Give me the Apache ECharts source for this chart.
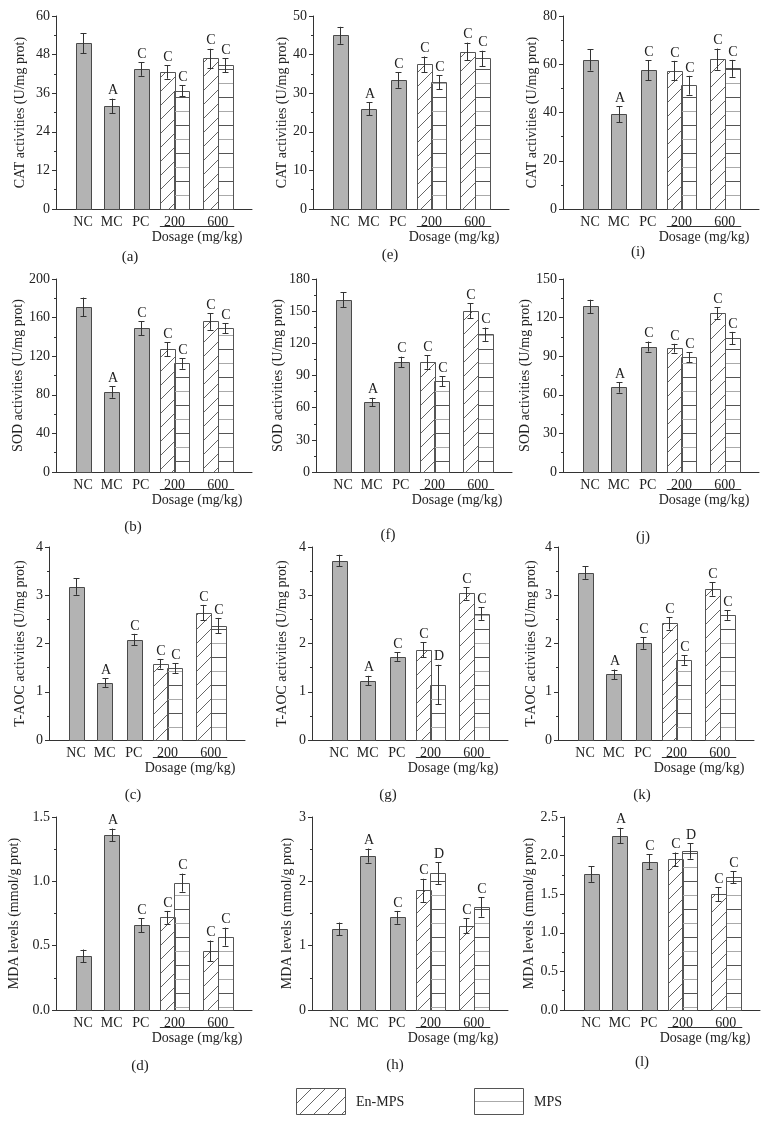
<!DOCTYPE html>
<html><head><meta charset="utf-8">
<script src="https://cdn.jsdelivr.net/npm/echarts@6/dist/echarts.min.js"></script>
<style>html,body{margin:0;padding:0;background:#fff}#c{width:772px;height:1143px}</style>
</head><body><div id="c"></div>
<script>
// ---------- DATA ----------
const groups = ['NC', 'MC', 'PC', '200', '600'];
const barNames = ['NC', 'MC', 'PC', '200 En-MPS', '200 MPS', '600 En-MPS', '600 MPS'];
const legendNames = ['En-MPS', 'MPS'];
const xTitle = 'Dosage (mg/kg)';

// column 1
const catA = [51.5, 32.0, 43.5, 42.6, 36.8, 46.8, 44.7];
const catAErr = [3.1, 2.3, 2.1, 2.1, 1.7, 3.0, 2.2];
const catASig = ['', 'A', 'C', 'C', 'C', 'C', 'C'];
const sodB = [171, 83, 149, 127, 112.5, 156, 149];
const sodBErr = [9.7, 6, 7.3, 7.3, 5.5, 8.7, 5.2];
const sodBSig = ['', 'A', 'C', 'C', 'C', 'C', 'C'];
const aocC = [3.18, 1.19, 2.08, 1.58, 1.49, 2.64, 2.37];
const aocCErr = [0.17, 0.09, 0.12, 0.10, 0.10, 0.16, 0.16];
const aocCSig = ['', 'A', 'C', 'C', 'C', 'C', 'C'];
const mdaD = [0.42, 1.36, 0.66, 0.72, 0.99, 0.46, 0.57];
const mdaDErr = [0.05, 0.05, 0.055, 0.05, 0.07, 0.08, 0.07];
const mdaDSig = ['', 'A', 'C', 'C', 'C', 'C', 'C'];
// column 2
const catE = [45.0, 26.0, 33.4, 37.5, 32.8, 40.8, 39.0];
const catEErr = [2.2, 1.7, 2.0, 2.0, 1.8, 2.3, 2.0];
const catESig = ['', 'A', 'C', 'C', 'C', 'C', 'C'];
const sodF = [160.6, 65.2, 102.6, 102.6, 84.8, 150.3, 128.5];
const sodFErr = [6.9, 4, 5, 6.3, 4.7, 6.9, 6.2];
const sodFSig = ['', 'A', 'C', 'C', 'C', 'C', 'C'];
const aocG = [3.72, 1.23, 1.73, 1.87, 1.15, 3.04, 2.62];
const aocGErr = [0.12, 0.10, 0.09, 0.16, 0.41, 0.13, 0.13];
const aocGSig = ['', 'A', 'C', 'C', 'D', 'C', 'C'];
const mdaH = [1.26, 2.40, 1.44, 1.86, 2.13, 1.31, 1.60];
const mdaHErr = [0.10, 0.11, 0.10, 0.18, 0.17, 0.12, 0.15];
const mdaHSig = ['', 'A', 'C', 'C', 'D', 'C', 'C'];
// column 3
const catI = [61.8, 39.3, 57.5, 57.4, 51.3, 62.1, 58.3];
const catIErr = [4.4, 3.4, 4.1, 4.0, 3.9, 4.4, 3.5];
const catISig = ['', 'A', 'C', 'C', 'C', 'C', 'C'];
const sodJ = [128.7, 65.8, 97.5, 96.2, 89.2, 123.5, 104];
const sodJErr = [5.2, 4.1, 3.9, 3.4, 3.9, 4.4, 4.9];
const sodJSig = ['', 'A', 'C', 'C', 'C', 'C', 'C'];
const aocK = [3.47, 1.36, 2.01, 2.42, 1.66, 3.13, 2.59];
const aocKErr = [0.13, 0.10, 0.12, 0.13, 0.10, 0.14, 0.10];
const aocKSig = ['', 'A', 'C', 'C', 'C', 'C', 'C'];
const mdaL = [1.76, 2.26, 1.92, 1.95, 2.06, 1.50, 1.72];
const mdaLErr = [0.10, 0.10, 0.10, 0.09, 0.10, 0.09, 0.08];
const mdaLSig = ['', 'A', 'C', 'C', 'D', 'C', 'C'];

// y-axis scales and titles
const yMaxes = [60, 200, 4, 1.5, 50, 180, 4, 3, 80, 150, 4, 2.5];
const ySteps = [12, 40, 1, 0.5, 10, 30, 1, 1, 20, 30, 1, 0.5];
const yDecimals = [0, 0, 0, 1, 0, 0, 0, 0, 0, 0, 0, 1];
const yTitles = ['CAT activities (U/mg prot)', 'SOD activities (U/mg prot)', 'T-AOC activities (U/mg prot)', 'MDA levels (mmol/g prot)'];
const panelLetters = ['(a)', '(b)', '(c)', '(d)', '(e)', '(f)', '(g)', '(h)', '(i)', '(j)', '(k)', '(l)'];

const panelVals = [catA, sodB, aocC, mdaD, catE, sodF, aocG, mdaH, catI, sodJ, aocK, mdaL];
const panelErrs = [catAErr, sodBErr, aocCErr, mdaDErr, catEErr, sodFErr, aocGErr, mdaHErr, catIErr, sodJErr, aocKErr, mdaLErr];
const panelSigs = [catASig, sodBSig, aocCSig, mdaDSig, catESig, sodFSig, aocGSig, mdaHSig, catISig, sodJSig, aocKSig, mdaLSig];

// ---------- LAYOUT ----------
const slotPos = [1.85, 3.8, 5.8, 7.6, 8.6, 10.55, 11.55];  // x-slot of each bar (bar width = 1)
const groupPos = [1.85, 3.8, 5.8, 8.1, 11.05];
const barKind = [0, 0, 0, 1, 2, 1, 2];
const X_MAX = 13.4;
const rowTops = [16, 279, 547, 817];
const PH = 193, PW = 196;
const axisLefts = [56, 56, 49, 56, 313, 316, 312, 312, 563, 563, 558, 564];
const nameGaps = [29, 27, 22, 35, 21, 29, 23, 18, 23, 23, 20, 27];
const letterPos = [[130, 257], [133, 527], [133, 795], [140, 1066], [390, 255], [388, 535], [388, 795], [395, 1065], [638, 252], [643, 537], [642, 795], [642, 1062]];

const FONT = '"Liberation Serif", "DejaVu Serif", serif';
const GRAY = '#b3b3b3';

function makeDiag() {
  const c = document.createElement('canvas');
  c.width = 14; c.height = 14;
  const g = c.getContext('2d');
  g.strokeStyle = '#555'; g.lineWidth = 0.9;
  g.beginPath(); g.moveTo(-1, 15); g.lineTo(15, -1); g.stroke();
  return c;
}
function makeHoriz() {
  const c = document.createElement('canvas');
  c.width = 4; c.height = 28;
  const g = c.getContext('2d');
  g.fillStyle = '#555'; g.fillRect(0, 13, 4, 1);
  g.fillStyle = '#aaa'; g.fillRect(0, 27, 4, 1);
  return c;
}
const diagPat = { image: makeDiag(), repeat: 'repeat' };
const horizPat = { image: makeHoriz(), repeat: 'repeat' };

const grids = [], xAxes = [], yAxes = [], series = [], graphics = [];

for (let p = 0; p < 12; p++) {
  const col = Math.floor(p / 4), row = p % 4;
  grids.push({ left: axisLefts[p], top: rowTops[row], width: PW, height: PH, containLabel: false });
  xAxes.push({
    type: 'value', gridIndex: p, min: 0, max: X_MAX,
    splitLine: { show: false },
    axisLine: { show: true, onZero: false, lineStyle: { color: '#333', width: 1 } },
    axisTick: { show: false },
    axisLabel: {
      show: true, customValues: groupPos, margin: 6,
      fontFamily: FONT, fontSize: 14, color: '#222',
      formatter: function (v) {
        const i = groupPos.findIndex(g => Math.abs(g - v) < 1e-6);
        return i >= 0 ? groups[i] : '';
      }
    }
  });
  const dec = yDecimals[p];
  yAxes.push({
    type: 'value', gridIndex: p, min: 0, max: yMaxes[p], interval: ySteps[p],
    name: yTitles[row], nameLocation: 'middle', nameGap: nameGaps[p],
    nameTextStyle: { fontFamily: FONT, fontSize: 14, color: '#222' },
    splitLine: { show: false },
    axisLine: { show: true, lineStyle: { color: '#333', width: 1 } },
    axisTick: { show: true, length: 4, lineStyle: { color: '#333' } },
    minorTick: { show: true, splitNumber: 2, length: 2, lineStyle: { color: '#333' } },
    axisLabel: {
      margin: 6, fontFamily: FONT, fontSize: 14, color: '#222',
      formatter: v => v.toFixed(dec)
    }
  });
  const vals = panelVals[p], errs = panelErrs[p], sigs = panelSigs[p];
  series.push({
    type: 'custom', xAxisIndex: p, yAxisIndex: p, clip: false,
    name: panelLetters[p],
    data: vals.map((v, i) => [slotPos[i], v, errs[i], barKind[i]]),
    renderItem: function (params, api) {
      const x = api.value(0), v = api.value(1), e = api.value(2), kind = api.value(3);
      const pL = api.coord([x - 0.5, v]);
      const pR = api.coord([x + 0.5, 0]);
      const pt = api.coord([x, v + e]);
      const pb = api.coord([x, v - e]);
      const cx = Math.round(api.coord([x, 0])[0]) + 0.5;
      const fill = kind === 0 ? GRAY : (kind === 1 ? diagPat : horizPat);
      const stroke = kind === 0 ? '#4a4a4a' : '#555';
      const x0 = Math.round(pL[0]) + 0.5, y0 = Math.round(pL[1]) + 0.5;
      const w = Math.round(pR[0] - pL[0]), h = Math.round(pR[1]) - Math.round(pL[1]);
      const ch = [
        { type: 'rect', shape: { x: x0, y: y0, width: w, height: h }, style: { fill: fill, stroke: stroke, lineWidth: 1 } },
        { type: 'line', shape: { x1: cx, y1: pt[1], x2: cx, y2: pb[1] }, style: { stroke: '#333', lineWidth: 1 } },
        { type: 'line', shape: { x1: cx - 3, y1: Math.round(pt[1]) + 0.5, x2: cx + 3, y2: Math.round(pt[1]) + 0.5 }, style: { stroke: '#333', lineWidth: 1 } },
        { type: 'line', shape: { x1: cx - 3, y1: Math.round(pb[1]) + 0.5, x2: cx + 3, y2: Math.round(pb[1]) + 0.5 }, style: { stroke: '#333', lineWidth: 1 } }
      ];
      const s = sigs[params.dataIndex];
      if (s) ch.push({ type: 'text', x: cx + 0.5, y: pt[1] - 1, style: { text: s, fill: '#222', font: '14px ' + FONT, align: 'center', verticalAlign: 'bottom' } });
      return { type: 'group', children: ch };
    }
  });
  // dosage underline + title
  series.push({
    type: 'custom', xAxisIndex: p, yAxisIndex: p, clip: false, silent: true,
    data: [[slotPos[3] - 0.5, slotPos[6] + 0.5]],
    renderItem: function (params, api) {
      const a = api.coord([api.value(0), 0]);
      const b = api.coord([api.value(1), 0]);
      const y = Math.round(a[1]) + 17.5;
      return {
        type: 'group', children: [
          { type: 'line', shape: { x1: a[0], y1: y, x2: b[0] + 2, y2: y }, style: { stroke: '#333', lineWidth: 1.2 } },
          { type: 'text', x: (a[0] + b[0]) / 2 + 1, y: a[1] + 28, style: { text: xTitle, fill: '#222', font: '14px ' + FONT, align: 'center', verticalAlign: 'middle' } }
        ]
      };
    }
  });
  graphics.push({ type: 'text', x: letterPos[p][0], y: letterPos[p][1], style: { text: panelLetters[p], fill: '#222', font: '15px ' + FONT, align: 'center', verticalAlign: 'middle' } });
}

// legend (drawn as graphic)
graphics.push({ type: 'rect', shape: { x: 296.5, y: 1088.5, width: 49, height: 26 }, style: { fill: diagPat, stroke: '#555', lineWidth: 1 } });
graphics.push({ type: 'text', x: 356, y: 1102, style: { text: legendNames[0], fill: '#222', font: '14px ' + FONT, verticalAlign: 'middle' } });
graphics.push({ type: 'rect', shape: { x: 474.5, y: 1088.5, width: 49, height: 26 }, style: { fill: '#fff', stroke: '#555', lineWidth: 1 } });
graphics.push({ type: 'line', shape: { x1: 475, y1: 1101.5, x2: 523, y2: 1101.5 }, style: { stroke: '#aaa', lineWidth: 1 } });
graphics.push({ type: 'text', x: 534, y: 1102, style: { text: legendNames[1], fill: '#222', font: '14px ' + FONT, verticalAlign: 'middle' } });

const chart = echarts.init(document.getElementById('c'), null, { renderer: 'canvas' });
chart.setOption({
  backgroundColor: '#fff',
  animation: false,
  textStyle: { fontFamily: FONT },
  grid: grids, xAxis: xAxes, yAxis: yAxes, series: series,
  graphic: graphics
});
</script></body></html>
